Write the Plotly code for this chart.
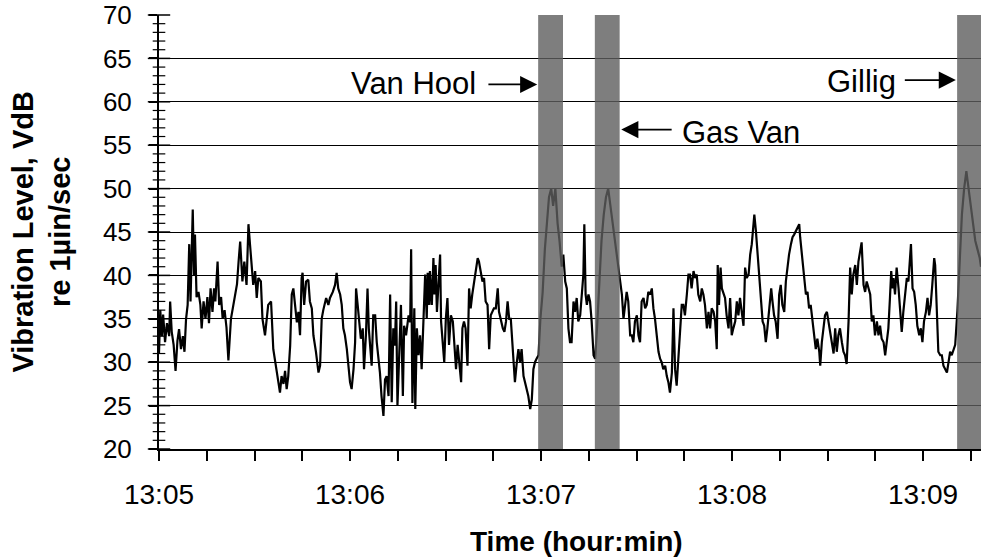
import plotly.graph_objects as go
from datetime import datetime, timedelta

# ---------------- data ----------------
# seconds after 13:05:00
seconds = [
    0, 0.4, 0.9, 1.3, 1.9, 2.5, 3.2, 3.5, 4.0, 4.6, 5.2, 5.8, 6.3, 6.9, 7.5, 8.0, 8.5, 9.0, 9.5, 9.9,
    10.6, 11.0, 11.3, 11.8, 12.4, 13.0, 13.4, 14.0, 14.6, 15.2, 15.7, 16.2, 16.8, 17.3, 17.7, 18.4, 18.9, 19.5,
    20.0, 20.6, 21.2, 21.8, 22.6, 23.4, 23.9, 24.5, 25.0, 25.5, 26.2, 26.8, 27.5, 28.1, 28.6, 29.1, 29.6,
    30.2, 30.7, 31.2, 32.0, 32.5, 33.3, 34.3, 35.2, 35.9, 36.6, 37.5, 38.0, 38.5, 39.1, 39.6,
    40.1, 40.6, 41.2, 41.7, 42.2, 42.7, 43.3, 43.8, 44.3, 44.8, 45.1, 45.6, 46.2, 46.9, 47.4, 48.0, 48.5, 49.3,
    50.1, 50.6, 51.1, 51.6, 52.5, 53.2, 53.7, 54.6, 55.3, 55.8, 56.3, 56.9, 57.4, 57.9, 58.4, 59.0, 59.5,
    60.0, 60.5, 61.1, 61.6, 61.9, 62.4, 62.9, 63.4, 64.0, 64.4, 65.0, 65.5, 65.9, 66.3, 66.8, 67.3, 67.9, 68.4, 68.9, 69.4, 69.9,
    70.5, 71.0, 71.5, 72.1, 72.6, 73.1, 73.6, 74.1, 74.5, 74.9, 75.5, 76.0, 76.6, 77.0, 77.6, 78.0, 78.4, 78.9, 79.2, 79.6, 79.9,
    80.2, 80.5, 81.0, 81.5, 82.0, 82.5, 83.0, 83.6, 84.1, 84.4, 84.9, 85.1, 85.7, 86.2, 86.5, 86.9, 87.3, 87.8, 88.3, 88.6, 89.0, 89.6,
    90.1, 90.6, 91.1, 91.7, 92.3, 92.8, 93.3, 93.8, 94.4, 94.9, 95.3, 95.8, 96.3, 96.9, 97.4, 97.9, 98.4, 99.1, 99.6,
    100.1, 100.5, 101.1, 101.6, 102.1, 102.6, 103.2, 103.7, 104.2, 104.7, 105.2, 105.8, 106.4, 106.8, 107.4, 108.0, 108.5, 109.0, 109.5,
    110.0, 110.5, 111.0, 111.5, 111.8, 112.4, 112.9, 113.4, 113.9, 114.5, 115.0, 115.5, 116.0, 116.6, 117.1, 117.6, 118.1, 118.6, 119.2,
    119.8, 120.5, 121.2, 121.8, 122.5, 123.2, 123.8, 124.5, 125.2, 125.8, 126.5,
    127.0, 127.6, 128.1, 128.6, 129.1, 129.6, 130.2, 130.7, 131.2, 131.7, 132.3, 132.8, 133.3, 133.6, 134.0, 134.4, 134.9, 135.4, 135.9, 136.5, 137.0,
    137.6, 138.3, 139.0, 139.7, 140.4, 141.1, 141.8, 142.5, 143.2, 143.9, 144.4,
    144.8, 145.4, 145.9, 146.4, 146.9, 147.4, 148.0, 148.5, 149.0, 149.5, 150.1, 150.6, 151.1, 151.6, 152.2, 152.7, 153.2, 153.7, 154.3, 154.8,
    155.3, 155.8, 156.3, 156.9, 157.4, 157.9, 158.4, 159.0, 159.5, 160.0, 160.5, 161.1, 161.6, 162.1, 162.6, 163.2, 163.7, 164.2, 164.7,
    165.2, 165.8, 166.3, 166.8, 167.3, 167.9, 168.4, 168.9, 169.4, 170.0, 170.5, 171.0, 171.5, 172.1, 172.6, 173.1, 173.6, 174.2, 174.7,
    175.2, 175.5, 175.9, 176.4, 176.8, 177.3, 177.8, 178.3, 178.9, 179.4, 179.9, 180.4, 181.0, 181.5, 182.0, 182.5, 183.1, 183.6,
    184.1, 184.6, 185.2, 185.7, 186.2, 186.7, 187.0, 187.5, 187.8, 188.1, 188.5, 189.0, 189.6, 190.1, 190.6, 191.1, 191.6, 192.3, 192.7,
    193.2, 193.7, 194.3, 194.8, 195.3, 195.8, 196.4, 196.9, 197.4, 197.9, 198.5, 199.0, 199.5, 200.0, 200.5, 201.1, 201.4, 201.7, 202.1,
    202.6, 203.2, 203.7, 204.2, 204.7, 205.3, 205.8, 206.3, 206.8, 207.4, 207.7, 208.2, 208.7, 209.2, 209.8, 210.3, 210.8, 211.3, 211.9,
    212.4, 212.9, 213.4, 213.9, 214.5, 215.0, 215.5, 216.0, 216.6, 216.9, 217.1, 217.6, 218.1, 218.7, 219.2, 219.7, 220.2, 220.7,
    221.3, 221.8, 222.3, 222.8, 223.4, 223.9, 224.4, 224.9, 225.5, 226.0, 226.5, 227.0, 227.6, 228.1, 228.6, 229.1, 229.6,
    230.0, 230.4, 230.7, 231.2, 231.7, 232.3, 232.8, 233.3, 233.8, 234.4, 234.9, 235.4, 235.9, 236.2, 236.7, 237.2, 237.7, 238.2, 238.8,
    239.3, 239.8, 240.3, 240.9, 241.4, 241.9, 242.4, 242.9, 243.5, 243.8, 244.3, 244.8, 245.4, 245.9, 246.4, 246.9, 247.5, 248.0, 248.5,
    249.0, 249.5, 250.1, 250.8, 251.5, 252.2, 252.9, 253.6, 254.3, 255.0, 255.7, 256.4, 257.1, 257.8, 258.2,
]
level = [
    31, 36, 33, 35.5, 32.3, 34.5, 33, 37, 33.5, 32, 29, 32.5, 33.8, 31.5, 33, 31.2, 35, 36.6, 43.6, 37,
    47.6, 40, 44.7, 37.5, 38.1, 36.6, 33.9, 37, 35, 37.5, 34.5, 38.5, 35.8, 38.5, 37, 41.6, 36.6, 37.5,
    35, 36, 34, 30.2, 35, 36.6, 38, 39, 41.6, 43.9, 39.3, 41.6, 38.9, 45.9, 43.5, 41.6, 38.9,
    40.5, 37.4, 39.7, 39.3, 35, 33.1, 36.6, 37, 31.5, 29.6, 27.7, 26.5, 28.4, 27.5, 29,
    26.9, 28.4, 31.9, 37.8, 38.5, 37, 34.6, 35.8, 33.1, 39.7, 40.3, 36.6, 39.3, 39.5, 37, 36.2, 33.1, 31.2,
    28.8, 29.6, 35, 36, 37.4, 36.6, 37.4, 38.1, 38.9, 40.3, 38.5, 37.8, 36.6, 33.9, 33.1, 31.5, 29.6,
    27.7, 26.9, 29.2, 32.3, 38.5, 36.6, 34.6, 32.7, 33.9, 29.2, 33.1, 38.5, 33.9, 32.3, 29.6, 35.4, 35.4, 32.3, 30.8, 28.8, 26.1,
    23.8, 28, 28.4, 26.1, 37.8, 25.4, 33.9, 31.9, 37, 25, 31.2, 36.6, 26.1, 34.2, 33.1, 34.6, 35.4, 34.6, 43, 25.3, 33.1,
    36.2, 24.6, 33.9, 30.8, 33.1, 29.2, 33.5, 40.1, 35, 40.3, 36.6, 40.5, 36.6, 42, 37.8, 41.2, 35.8, 38.5, 42.4, 34.7, 32.7, 30,
    35, 37.4, 32, 35.4, 34.7, 31.5, 29.2, 32, 30, 27.7, 33.9, 34.7, 33.9, 29.6, 38.5, 36.2, 37.8, 39.7, 40.5,
    42, 41.6, 40.1, 39.3, 39.7, 37, 36.6, 31.5, 35.4, 35.8, 36.2, 36.2, 38.5, 35.8, 34.7, 33.9, 33.5, 34.7, 37,
    35, 35, 32.3, 30, 27.7, 30, 31.5, 30, 31.5, 28.4, 27.7, 26.9, 26.1, 24.6, 25.7, 29.2, 30, 30.4, 30.8,
    35, 38, 43, 46, 49, 50, 48, 50, 46, 44, 41,
    42.4, 39.3, 38.5, 33.9, 32.3, 32.3, 37, 35.8, 37.4, 34.7, 35.4, 37.8, 40.1, 45.9, 37.8, 36.6, 37.8, 37, 34.7, 30.8, 30.4,
    34, 40, 44, 47, 49, 50, 48, 46, 44, 42, 41,
    40.1, 37.8, 35, 36.6, 38.1, 37, 33.1, 33.1, 32.3, 34.7, 35.4, 33.1, 32.3, 37, 37.4, 36.2, 36.6, 38.1, 37.8, 38.5,
    36.2, 35, 33.1, 31.2, 30.4, 30, 29.2, 29.6, 28.4, 27.7, 26.5, 28.8, 36.2, 29.2, 27.3, 31.2, 34.7, 36.6, 36.6,
    35.4, 37.8, 40.1, 40.1, 38.5, 40.5, 39.7, 40.1, 37.8, 37, 38.5, 37.8, 36.6, 33.9, 35.8, 33.9, 36.2, 35.8, 34.7,
    31.5, 41.2, 36.6, 40.9, 38.5, 37.8, 37.4, 35.4, 33.9, 37.4, 33.1, 33.9, 34.7, 37, 35.4, 37.4, 35.8, 34.2,
    40.9, 39.7, 40.1, 42.4, 43.6, 45.5, 47, 45.1, 43.6, 41.6, 39.3, 37, 34.7, 34.2, 32.3, 33.9, 35.8, 38.5, 37,
    35.4, 34.7, 32.7, 37.8, 38.9, 36.6, 35.8, 39.3, 40.9, 42.4, 43.6, 44.4, 44.7, 45.1, 45.5, 45.9, 44.4, 43.2, 41.6,
    39.3, 37.8, 38.1, 36.2, 36.6, 35, 33.1, 31.5, 32.7, 31.2, 29.6, 32.3, 33.9, 35.4, 35.8, 34.7, 33.9, 32.7, 31,
    33.9, 31.2, 33.1, 33.9, 32.3, 31.2, 30.8, 29.8, 34.7, 37.8, 40.9, 37.8, 40.1, 41.2, 38.9, 41.6, 42.8, 43.8,
    38.9, 38.1, 39.3, 38.5, 37.8, 34.7, 35.4, 33.1, 34.7, 33.1, 34.2, 32.7, 32.3, 30.8, 32.3, 33.9, 37.4,
    40.5, 38.5, 39.7, 37.8, 40.9, 38.5, 36.2, 33.5, 35.8, 38.5, 39.7, 39.3, 42.8, 43.6, 38.5, 38.1, 36.6, 34.2, 33.1,
    33.9, 32.3, 34.7, 35.8, 37.4, 35.4, 36.6, 38.9, 42, 41.2, 34.7, 31.2, 30.8, 30.8, 29.6, 29.2, 28.8, 30, 31.2,
    30.8, 31.5, 32, 36, 42, 47, 50, 52, 50, 48, 46, 44, 43, 42, 41,
]

event_names = ["Van Hool", "Gas Van", "Gillig"]
event_start_s = [119.1, 136.9, 250.7]
event_end_s = [126.9, 144.7, 258.2]

y_ticks = [20, 25, 30, 35, 40, 45, 50, 55, 60, 65, 70]
y_minor_ticks = [v for v in range(20, 71) if v % 5 != 0]
x_end_s = 258.2

# ---------------- helpers ----------------
base = datetime(2000, 1, 1, 13, 5, 0)


def t(s):
    return (base + timedelta(seconds=s)).strftime("%Y-%m-%d %H:%M:%S.%f")


times = [t(s) for s in seconds]

FONT = "Liberation Sans, Arial, sans-serif"

fig = go.Figure()
fig.add_trace(go.Scatter(
    x=times, y=level, mode="lines",
    line=dict(color="black", width=2.2),
    showlegend=False, hoverinfo="skip",
))

# crossing tick marks on the value axis (Excel-style "cross" ticks)
fig.add_trace(go.Scatter(
    x=[t(0)] * len(y_ticks), y=y_ticks, mode="markers", cliponaxis=False,
    marker=dict(symbol="line-ew", size=16, line=dict(color="black", width=1.5)),
    showlegend=False, hoverinfo="skip",
))
fig.add_trace(go.Scatter(
    x=[t(0)] * len(y_minor_ticks), y=y_minor_ticks, mode="markers", cliponaxis=False,
    marker=dict(symbol="line-ew", size=9, line=dict(color="black", width=1.2)),
    showlegend=False, hoverinfo="skip",
))

# event bars
for s0, s1 in zip(event_start_s, event_end_s):
    fig.add_shape(type="rect", xref="x", yref="y",
                  x0=t(s0), x1=t(s1), y0=y_ticks[0], y1=y_ticks[-1],
                  fillcolor="#5e5e5e", opacity=0.8, line=dict(width=0),
                  layer="above")

ann_font = dict(family=FONT, size=31, color="black")
arrow_kw = dict(text="", showarrow=True, arrowhead=2, arrowsize=1.9,
                arrowwidth=1.8, arrowcolor="black", axref="x", ayref="y")
# Van Hool
fig.add_annotation(x=t(100.2), y=62.1, text=event_names[0], showarrow=False,
                   xanchor="right", yanchor="middle", font=ann_font)
fig.add_annotation(x=t(118.8), y=62.0, ax=t(103.0), ay=62.0, **arrow_kw)
# Gas Van
fig.add_annotation(x=t(163.7), y=56.5, text=event_names[1], showarrow=False,
                   xanchor="left", yanchor="middle", font=ann_font)
fig.add_annotation(x=t(145.2), y=56.8, ax=t(161.5), ay=56.8, **arrow_kw)
# Gillig
fig.add_annotation(x=t(232.2), y=62.3, text=event_names[2], showarrow=False,
                   xanchor="right", yanchor="middle", font=ann_font)
fig.add_annotation(x=t(250.3), y=62.5, ax=t(233.8), ay=62.5, **arrow_kw)

# axis titles
fig.add_annotation(xref="paper", yref="paper", x=-0.1429, y=0.5,
                   text="<b>Vibration Level, VdB<br>re 1\u00b5in/sec</b>",
                   textangle=-90, showarrow=False, xanchor="center", yanchor="middle",
                   font=dict(family=FONT, size=29, color="black"))
fig.add_annotation(xref="paper", yref="paper", x=0.5085, y=-0.214,
                   text="<b>Time (hour:min)</b>", showarrow=False,
                   xanchor="center", yanchor="middle",
                   font=dict(family=FONT, size=28, color="black"))

fig.update_layout(
    width=981, height=560,
    margin=dict(l=159, r=0, t=15, b=111),
    paper_bgcolor="white", plot_bgcolor="white",
    font=dict(family=FONT, color="black"),
    showlegend=False,
    xaxis=dict(
        type="date", range=[t(0), t(x_end_s)],
        tick0=t(0), dtick=60000, tickformat="%H:%M",
        ticks="outside", ticklen=10, tickwidth=1.5, tickcolor="black",
        minor=dict(dtick=15000, tick0=t(0), ticks="outside", ticklen=10,
                   tickwidth=1.5, tickcolor="black", showgrid=False),
        showline=True, linewidth=2, linecolor="black",
        showgrid=False, zeroline=False,
        tickfont=dict(family=FONT, size=28, color="black"),
        ticklabelstandoff=9,
    ),
    yaxis=dict(
        range=[y_ticks[0], y_ticks[-1]], tickmode="array", tickvals=y_ticks,
        ticks="outside", ticklen=8, tickwidth=1.5, tickcolor="black",
        showline=True, linewidth=2, linecolor="black",
        showgrid=True, gridcolor="black", gridwidth=1, zeroline=False,
        tickfont=dict(family=FONT, size=26, color="black"),
        ticklabelstandoff=12,
    ),
)

fig.write_html("out.html")
